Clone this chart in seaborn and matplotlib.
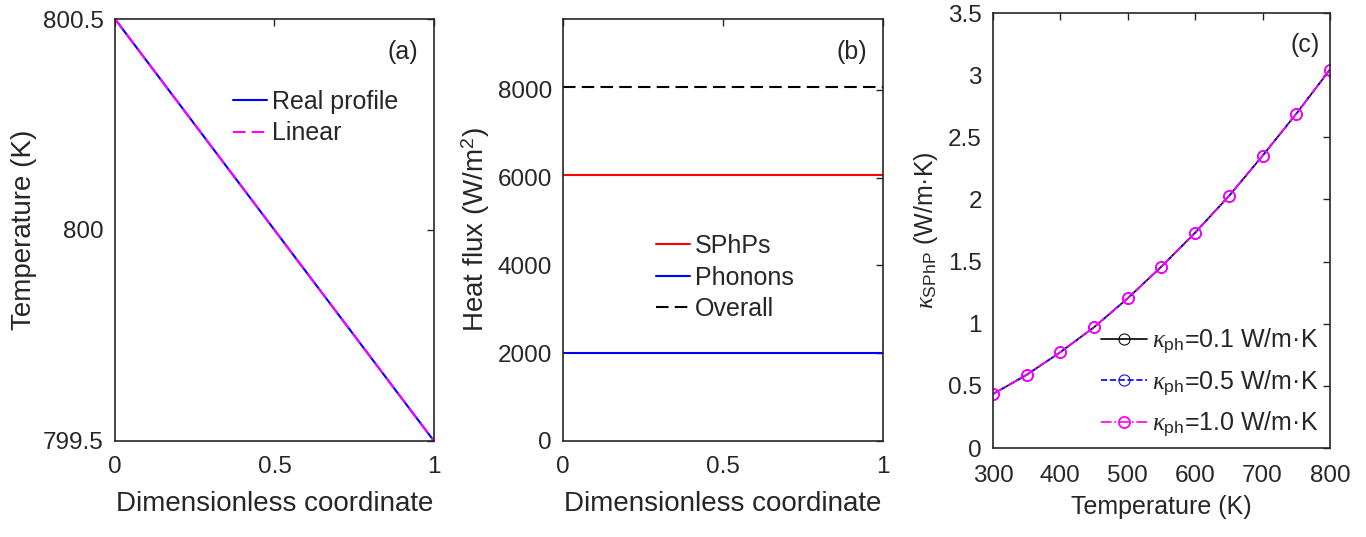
import numpy as np
import pandas as pd
import matplotlib
matplotlib.use('Agg')
import matplotlib.pyplot as plt
import seaborn as sns
from matplotlib.ticker import FuncFormatter

# panel (a) data - temperature profile
x_a = [0.0, 0.25, 0.5, 0.75, 1.0]
T_real = [800.5, 800.25, 800.0, 799.75, 799.5]
T_linear = [800.5, 800.25, 800.0, 799.75, 799.5]

# panel (b) data - heat flux
x_b = [0.0, 1.0]
q_sphp = [6060, 6060]
q_phonon = [2000, 2000]
q_overall = [8060, 8060]

# panel (c) data - kappa_SPhP vs temperature
temps = [300, 350, 400, 450, 500, 550, 600, 650, 700, 750, 800]
k_01 = [0.434, 0.589, 0.771, 0.972, 1.205, 1.460, 1.733, 2.027, 2.351, 2.689, 3.045]
k_05 = [0.434, 0.589, 0.771, 0.972, 1.205, 1.460, 1.733, 2.027, 2.351, 2.689, 3.045]
k_10 = [0.434, 0.589, 0.771, 0.972, 1.205, 1.460, 1.733, 2.027, 2.351, 2.689, 3.045]

sns.set_style('white')
plt.rcParams['font.family'] = ['Liberation Sans', 'DejaVu Sans']
plt.rcParams['mathtext.fontset'] = 'custom'
plt.rcParams['mathtext.rm'] = 'Liberation Sans'
plt.rcParams['mathtext.it'] = 'Liberation Serif:italic'

dark = '#262626'
fs_tick = 17.5
fs_leg = 18
fig = plt.figure(figsize=(13.66, 5.37), dpi=100)
ax_a = fig.add_axes([0.0842, 0.1788, 0.2335, 0.7858])
ax_b = fig.add_axes([0.4122, 0.1788, 0.2343, 0.7858])
ax_c = fig.add_axes([0.7269, 0.1657, 0.2467, 0.8100])

fmt = FuncFormatter(lambda v, p: '%g' % v)

def style(ax):
    for s in ax.spines.values():
        s.set_visible(True)
        s.set_color(dark)
        s.set_linewidth(1.2)
    ax.tick_params(direction='in', top=True, right=True, length=5, width=1.0,
                   color=dark, labelcolor=dark, labelsize=fs_tick)
    ax.tick_params(axis='x', pad=11)
    ax.tick_params(axis='y', pad=8)
    ax.xaxis.label.set_color(dark)
    ax.yaxis.label.set_color(dark)

# (a)
sns.lineplot(x=x_a, y=T_real, ax=ax_a, color='blue', lw=1.5, label='Real profile')
sns.lineplot(x=x_a, y=T_linear, ax=ax_a, color='magenta', lw=1.5, label='Linear')
ax_a.lines[-1].set_dashes((6, 3))
ax_a.set_xlim(0, 1)
ax_a.set_ylim(799.5, 800.5)
ax_a.set_xticks([0, 0.5, 1])
ax_a.set_yticks([799.5, 800, 800.5])
ax_a.xaxis.set_major_formatter(fmt)
ax_a.yaxis.set_major_formatter(fmt)
ax_a.set_xlabel('Dimensionless coordinate', fontsize=20, labelpad=9)
ax_a.set_ylabel('Temperature (K)', fontsize=20, labelpad=4)
ax_a.legend(loc='upper left', bbox_to_anchor=(0.37, 0.832), frameon=False, fontsize=fs_leg,
            handlelength=1.35, handletextpad=0.2, borderaxespad=0, borderpad=0,
            labelspacing=0.3, labelcolor=dark)
ax_a.text(0.95, 0.95, '(a)', transform=ax_a.transAxes, ha='right', va='top', fontsize=fs_leg, color=dark)
style(ax_a)

# (b)
sns.lineplot(x=x_b, y=q_sphp, ax=ax_b, color='red', lw=1.5, label='SPhPs')
sns.lineplot(x=x_b, y=q_phonon, ax=ax_b, color='blue', lw=1.5, label='Phonons')
sns.lineplot(x=x_b, y=q_overall, ax=ax_b, color='black', lw=1.5, label='Overall')
ax_b.lines[-1].set_dashes((6, 3))
ax_b.set_xlim(0, 1)
ax_b.set_ylim(0, 9610)
ax_b.set_xticks([0, 0.5, 1])
ax_b.set_yticks([0, 2000, 4000, 6000, 8000])
ax_b.xaxis.set_major_formatter(fmt)
ax_b.set_xlabel('Dimensionless coordinate', fontsize=20, labelpad=9)
ax_b.set_ylabel('Heat flux (W/m$^2$)', fontsize=20, labelpad=4)
ax_b.legend(loc='upper left', bbox_to_anchor=(0.29, 0.49), frameon=False, fontsize=fs_leg,
            handlelength=1.35, handletextpad=0.2, borderaxespad=0, borderpad=0,
            labelspacing=0.3, labelcolor=dark)
ax_b.text(0.95, 0.95, '(b)', transform=ax_b.transAxes, ha='right', va='top', fontsize=fs_leg, color=dark)
style(ax_b)

# (c)
sns.lineplot(x=temps, y=k_01, ax=ax_c, color='black', lw=1.2, marker='o', markersize=8,
             markerfacecolor='none', markeredgecolor='black', label=r'$\kappa_{\rm ph}$=0.1 W/m·K')
sns.lineplot(x=temps, y=k_05, ax=ax_c, color='blue', lw=1.2, linestyle='--',
             marker='o', markersize=8, markerfacecolor='none', markeredgecolor='blue',
             label=r'$\kappa_{\rm ph}$=0.5 W/m·K')
sns.lineplot(x=temps, y=k_10, ax=ax_c, color='magenta', lw=1.2, linestyle='-.',
             marker='o', markersize=8, markerfacecolor='none', markeredgecolor='magenta',
             markeredgewidth=1.3, label=r'$\kappa_{\rm ph}$=1.0 W/m·K')
ax_c.set_xlim(300, 800)
ax_c.set_ylim(0, 3.5)
ax_c.set_xticks([300, 400, 500, 600, 700, 800])
ax_c.set_yticks([0, 0.5, 1, 1.5, 2, 2.5, 3, 3.5])
ax_c.yaxis.set_major_formatter(fmt)
ax_c.set_xlabel('Temperature (K)', fontsize=18, labelpad=6)
ax_c.set_ylabel(r'$\kappa_{\rm SPhP}$ (W/m·K)', fontsize=18, labelpad=6)
ax_c.legend(loc='lower left', bbox_to_anchor=(0.32, 0.02), frameon=False, fontsize=fs_leg,
            handlelength=1.85, handletextpad=0.2, borderaxespad=0, borderpad=0,
            labelspacing=0.5, labelcolor=dark)
ax_c.text(0.97, 0.955, '(c)', transform=ax_c.transAxes, ha='right', va='top', fontsize=fs_leg, color=dark)
style(ax_c)
ax_c.tick_params(axis='x', pad=12)

fig.savefig('out.png', dpi=100)
